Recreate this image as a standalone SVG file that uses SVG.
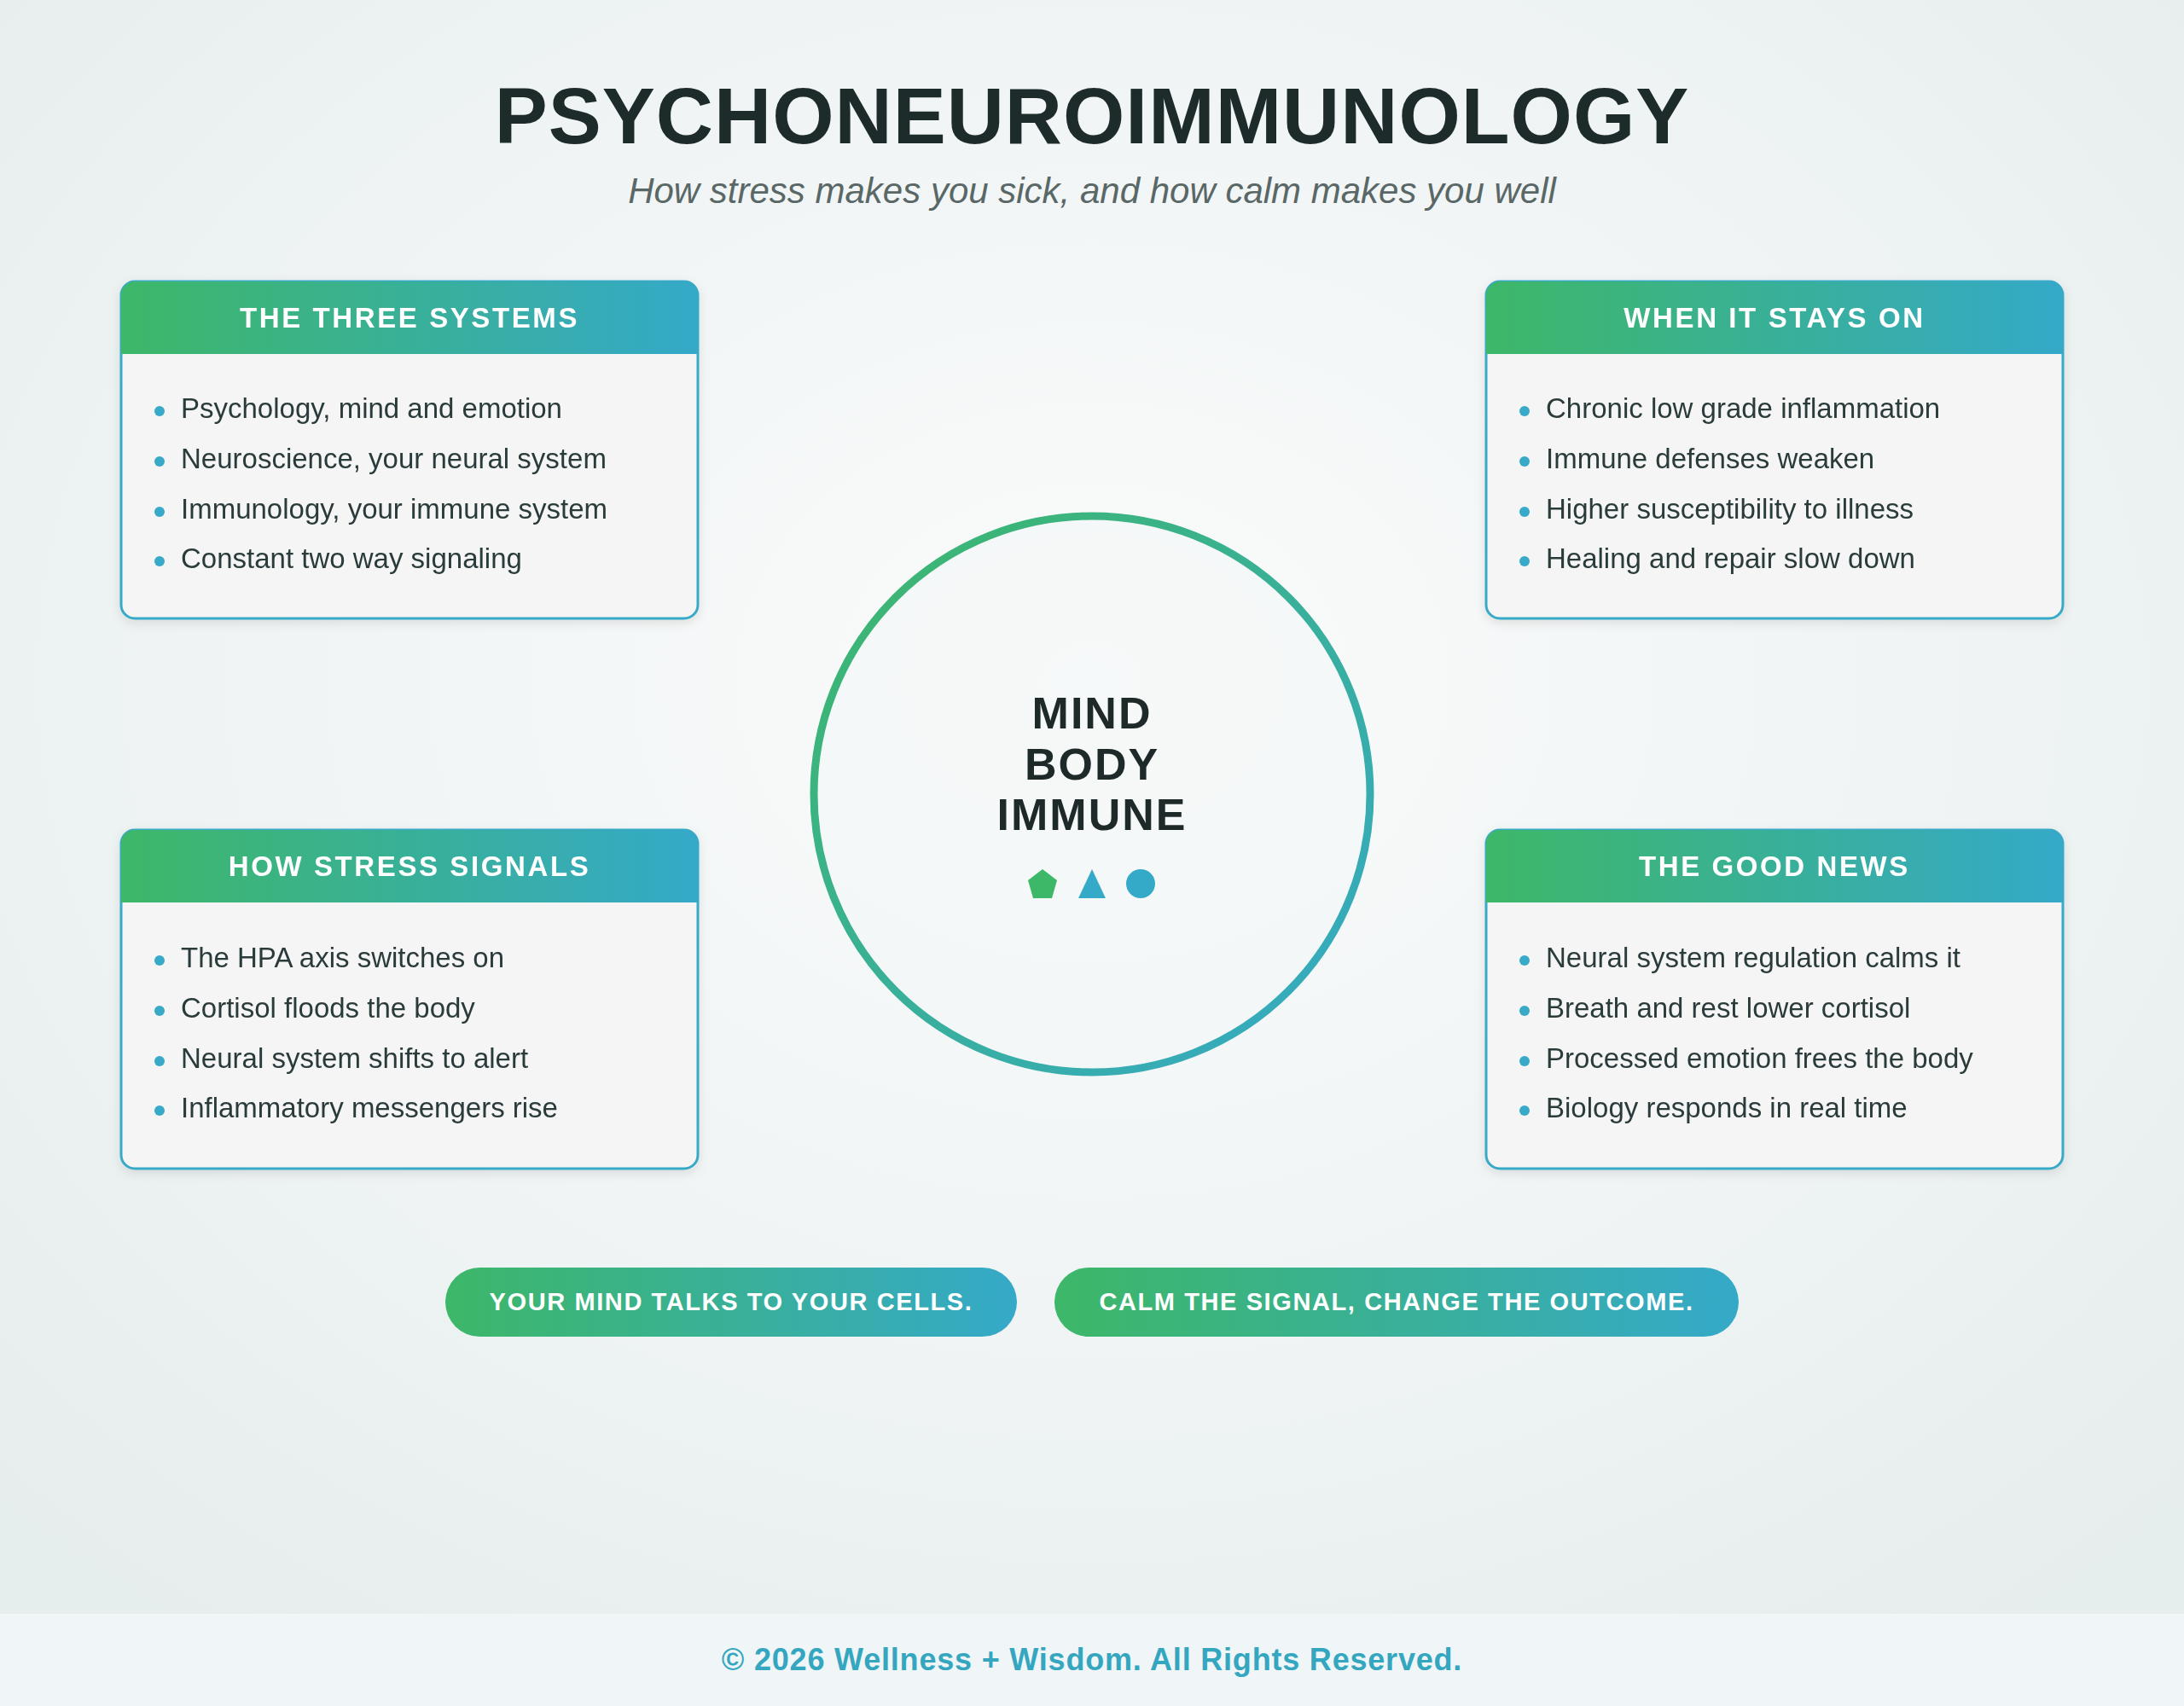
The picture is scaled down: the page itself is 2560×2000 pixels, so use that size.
<svg xmlns="http://www.w3.org/2000/svg" width="2560" height="2000" viewBox="0 0 2560 2000">
<defs>
<radialGradient id="bg" cx="50%" cy="40%" r="70%"><stop offset="0" stop-color="#fbfcfc"/><stop offset="1" stop-color="#e6eded"/></radialGradient>
<linearGradient id="gr" x1="0" y1="0" x2="1" y2="0"><stop offset="0" stop-color="#3db768"/><stop offset="1" stop-color="#35a9c8"/></linearGradient>
<linearGradient id="gc" x1="0" y1="0" x2="1" y2="1"><stop offset="0" stop-color="#3db768"/><stop offset="1" stop-color="#35a9c8"/></linearGradient>
<filter id="sh" x="-10%" y="-10%" width="120%" height="130%"><feDropShadow dx="0" dy="4" stdDeviation="6" flood-color="#000" flood-opacity="0.1"/></filter>
</defs>
<style>
text{font-family:"Liberation Sans",Arial,sans-serif}
.card{fill:#f5f5f5;stroke:#38a9c6;stroke-width:3}
.hd{fill:#fff;font-size:33px;font-weight:bold;letter-spacing:2.6px;text-anchor:middle}
.it{fill:#2c3b3b;font-size:33px}
.dot{fill:#38a9c6}
.pill{fill:#fff;font-size:29px;font-weight:bold;letter-spacing:1.6px;text-anchor:middle}
.ct{fill:#1e2a2a;font-size:52px;font-weight:bold;letter-spacing:2px;text-anchor:middle}
</style>
<rect width="2560" height="2000" fill="url(#bg)"/>
<text x="1280" y="168" text-anchor="middle" font-size="93" font-weight="bold" fill="#1e2b2b" letter-spacing="1">PSYCHONEUROIMMUNOLOGY</text>
<text x="1280" y="238" text-anchor="middle" font-size="42" font-style="italic" fill="#5a6767">How stress makes you sick, and how calm makes you well</text>

<g id="card-three-systems" filter="url(#sh)">
<rect class="card" x="142" y="330" width="676" height="395" rx="16"/>
<path d="M142 415 V346 a16 16 0 0 1 16 -16 H802 a16 16 0 0 1 16 16 V415 Z" fill="url(#gr)"/>
<text class="hd" x="480" y="384">THE THREE SYSTEMS</text>
<circle class="dot" cx="187" cy="482" r="6"/><text class="it" x="212" y="490">Psychology, mind and emotion</text>
<circle class="dot" cx="187" cy="541" r="6"/><text class="it" x="212" y="549">Neuroscience, your neural system</text>
<circle class="dot" cx="187" cy="600" r="6"/><text class="it" x="212" y="608">Immunology, your immune system</text>
<circle class="dot" cx="187" cy="658" r="6"/><text class="it" x="212" y="666">Constant two way signaling</text>
</g>
<g id="card-stays-on" filter="url(#sh)">
<rect class="card" x="1742" y="330" width="676" height="395" rx="16"/>
<path d="M1742 415 V346 a16 16 0 0 1 16 -16 H2402 a16 16 0 0 1 16 16 V415 Z" fill="url(#gr)"/>
<text class="hd" x="2080" y="384">WHEN IT STAYS ON</text>
<circle class="dot" cx="1787" cy="482" r="6"/><text class="it" x="1812" y="490">Chronic low grade inflammation</text>
<circle class="dot" cx="1787" cy="541" r="6"/><text class="it" x="1812" y="549">Immune defenses weaken</text>
<circle class="dot" cx="1787" cy="600" r="6"/><text class="it" x="1812" y="608">Higher susceptibility to illness</text>
<circle class="dot" cx="1787" cy="658" r="6"/><text class="it" x="1812" y="666">Healing and repair slow down</text>
</g>
<g id="card-stress-signals" filter="url(#sh)">
<rect class="card" x="142" y="973" width="676" height="397" rx="16"/>
<path d="M142 1058 V989 a16 16 0 0 1 16 -16 H802 a16 16 0 0 1 16 16 V1058 Z" fill="url(#gr)"/>
<text class="hd" x="480" y="1027">HOW STRESS SIGNALS</text>
<circle class="dot" cx="187" cy="1126" r="6"/><text class="it" x="212" y="1134">The HPA axis switches on</text>
<circle class="dot" cx="187" cy="1185" r="6"/><text class="it" x="212" y="1193">Cortisol floods the body</text>
<circle class="dot" cx="187" cy="1244" r="6"/><text class="it" x="212" y="1252">Neural system shifts to alert</text>
<circle class="dot" cx="187" cy="1302" r="6"/><text class="it" x="212" y="1310">Inflammatory messengers rise</text>
</g>
<g id="card-good-news" filter="url(#sh)">
<rect class="card" x="1742" y="973" width="676" height="397" rx="16"/>
<path d="M1742 1058 V989 a16 16 0 0 1 16 -16 H2402 a16 16 0 0 1 16 16 V1058 Z" fill="url(#gr)"/>
<text class="hd" x="2080" y="1027">THE GOOD NEWS</text>
<circle class="dot" cx="1787" cy="1126" r="6"/><text class="it" x="1812" y="1134">Neural system regulation calms it</text>
<circle class="dot" cx="1787" cy="1185" r="6"/><text class="it" x="1812" y="1193">Breath and rest lower cortisol</text>
<circle class="dot" cx="1787" cy="1244" r="6"/><text class="it" x="1812" y="1252">Processed emotion frees the body</text>
<circle class="dot" cx="1787" cy="1302" r="6"/><text class="it" x="1812" y="1310">Biology responds in real time</text>
</g>

<g id="center">
<circle cx="1280" cy="931" r="326" fill="#f4f7f7" fill-opacity="0.6" stroke="url(#gc)" stroke-width="9"/>
<text class="ct" x="1280" y="854">MIND</text>
<text class="ct" x="1280" y="914">BODY</text>
<text class="ct" x="1280" y="973">IMMUNE</text>
<polygon points="1222,1019 1239,1032 1233,1053 1211,1053 1205,1032" fill="#3db768"/>
<polygon points="1280,1019 1296,1053 1264,1053" fill="#35a9c8"/>
<circle cx="1337" cy="1036" r="17" fill="#35a9c8"/>
</g>

<g id="pill-1"><rect x="522" y="1486" width="670" height="81" rx="40.5" fill="url(#gr)"/><text class="pill" x="857" y="1536">YOUR MIND TALKS TO YOUR CELLS.</text></g>
<g id="pill-2"><rect x="1236" y="1486" width="802" height="81" rx="40.5" fill="url(#gr)"/><text class="pill" x="1637" y="1536">CALM THE SIGNAL, CHANGE THE OUTCOME.</text></g>

<g id="footer"><rect x="0" y="1892" width="2560" height="108" fill="#f0f6f7"/>
<text x="1280" y="1958" text-anchor="middle" font-size="36" font-weight="bold" fill="#35a6c0" letter-spacing="0.8">© 2026 Wellness + Wisdom. All Rights Reserved.</text></g>
<g id="connectors"/>
</svg>
